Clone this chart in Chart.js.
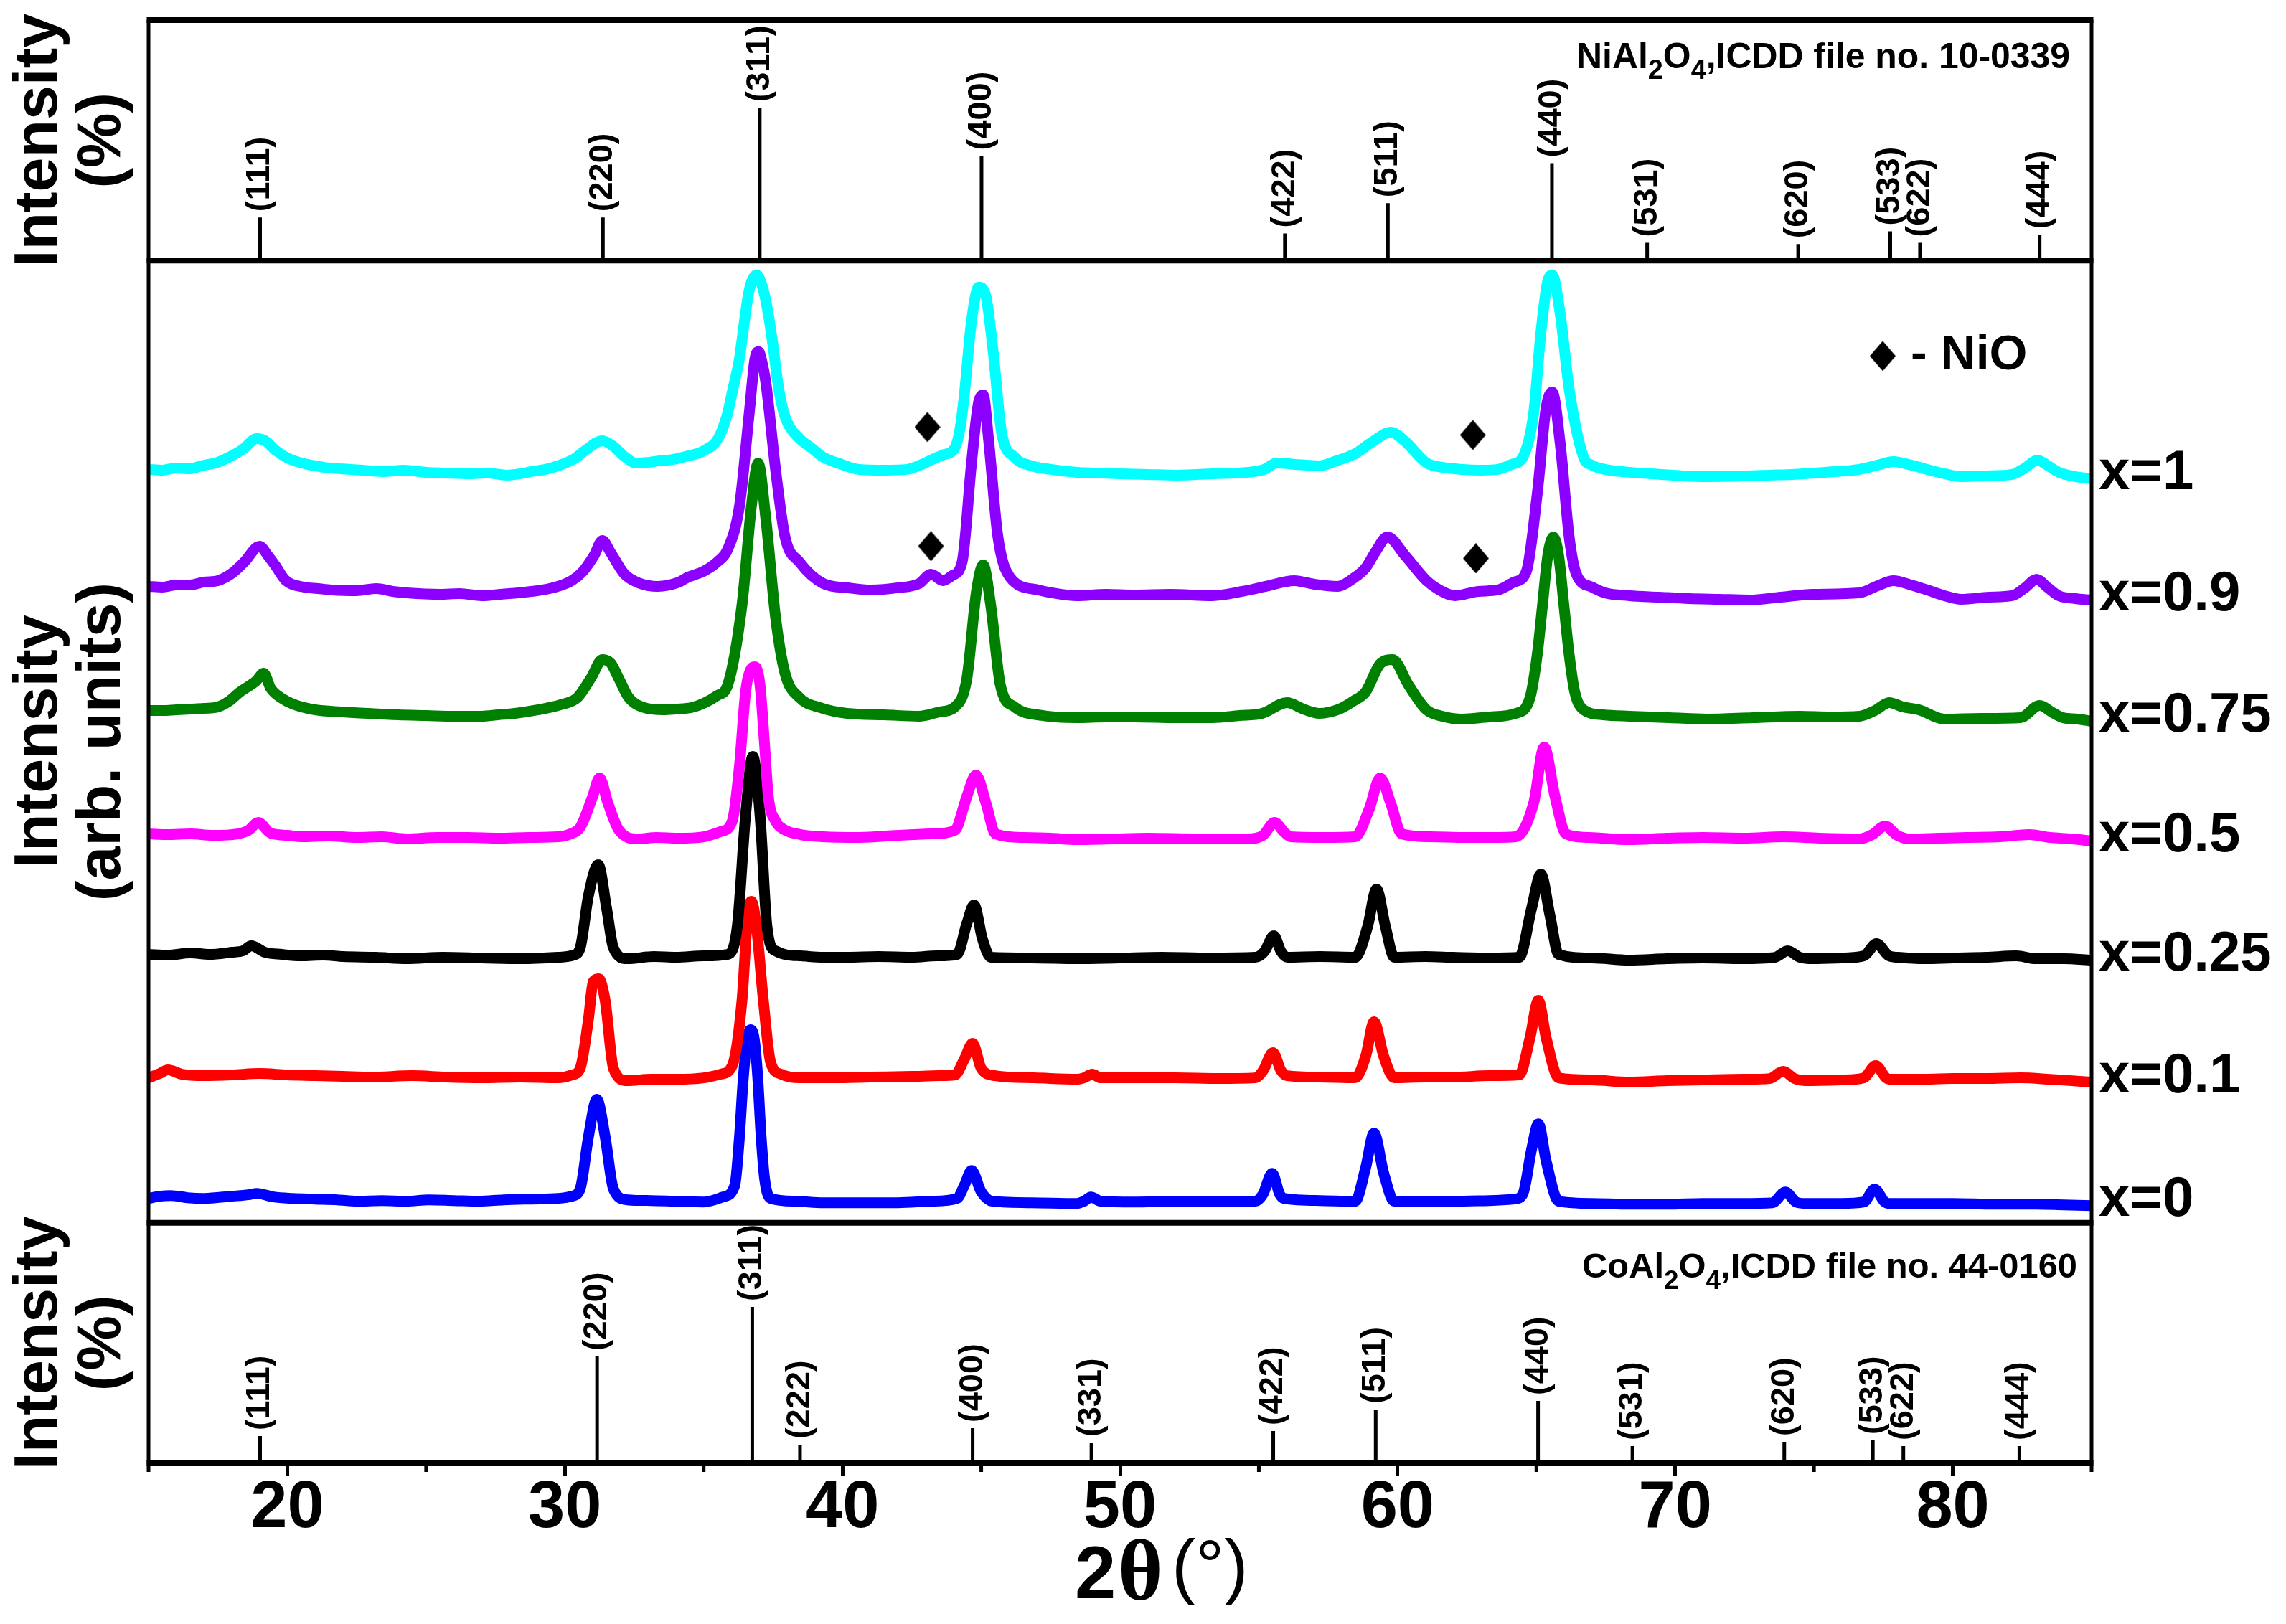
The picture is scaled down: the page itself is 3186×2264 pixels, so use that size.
<!DOCTYPE html>
<html>
<head>
<meta charset="utf-8">
<script src="https://cdn.jsdelivr.net/npm/chart.js@4.4.1/dist/chart.umd.min.js"></script>
<style>
  html, body { margin: 0; padding: 0; background: #ffffff; }
  #c { display: block; }
</style>
</head>
<body>
<canvas id="c" width="3186" height="2264"></canvas>
<script>
// ---------------- DATA ----------------
const seriesNames  = ['x=1', 'x=0.9', 'x=0.75', 'x=0.5', 'x=0.25', 'x=0.1', 'x=0'];
const seriesColors = ['#00FFFF', '#8C00FF', '#008000', '#FF00FF', '#000000', '#FF0000', '#0000FF'];
const xTickLabels  = [20, 30, 40, 50, 60, 70, 80];

// [2theta, stacked intensity (arb. units, offset included)]
const xrd_x1 = [[15.0,1050],[15.5,1049],[16.0,1052],[16.5,1051],[16.9,1055],[17.5,1060],[17.9,1067],[18.4,1078],[18.9,1093],[19.2,1090],[19.6,1076],[20.0,1066],[20.5,1059],[21.0,1055],[21.5,1052],[22.3,1050],[23.0,1048],[23.5,1047],[24.2,1049],[25.0,1046],[25.7,1045],[26.5,1044],[27.2,1045],[27.9,1042],[28.4,1044],[28.8,1047],[29.3,1050],[29.75,1055],[30.35,1065],[30.75,1077],[31.35,1090],[31.75,1082],[32.15,1068],[32.55,1059],[33.05,1060],[33.4,1062],[33.75,1063],[34.35,1068],[35.0,1076],[35.52,1093],[35.86,1128],[36.03,1158],[36.29,1205],[36.47,1257],[36.64,1300],[36.91,1321],[37.15,1300],[37.33,1266],[37.5,1222],[37.67,1171],[37.84,1136],[38.02,1115],[38.45,1093],[38.88,1080],[39.31,1067],[39.9,1058],[40.6,1050],[41.5,1049],[42.33,1050],[42.8,1056],[43.19,1063],[43.6,1070],[44.05,1080],[44.25,1110],[44.39,1154],[44.65,1257],[44.91,1304],[45.17,1291],[45.43,1214],[45.73,1102],[46.2,1067],[46.8,1055],[47.5,1050],[48.44,1046],[49.2,1045],[50.0,1044],[51.0,1043],[52.04,1042],[53.3,1044],[54.61,1046],[55.2,1050],[55.64,1059],[56.3,1057],[57.18,1055],[57.8,1062],[58.47,1072],[59.11,1089],[59.75,1102],[60.27,1089],[61.04,1059],[61.6,1053],[62.33,1050],[63.0,1049],[63.61,1050],[64.1,1057],[64.51,1067],[64.9,1128],[65.16,1240],[65.41,1313],[65.57,1321],[65.86,1266],[66.18,1162],[66.7,1067],[67.0,1056],[67.47,1050],[68.35,1046],[69.5,1043],[70.3,1041],[71.14,1040],[72.6,1041],[73.4,1042],[74.2,1043],[75.4,1046],[76.64,1050],[77.3,1056],[77.86,1061],[78.5,1056],[79.08,1050],[79.7,1044],[80.31,1040],[81.2,1041],[82.14,1043],[82.6,1052],[83.05,1063],[83.4,1056],[83.82,1046],[84.4,1040],[85.0,1037]];

const xrd_x09 = [[15.0,887],[15.5,886],[16.0,889],[16.5,889],[17.0,893],[17.5,895],[18.0,905],[18.45,921],[19.0,943],[19.3,930],[19.55,917],[19.95,895],[20.6,886],[21.1,884],[21.6,882],[22.5,881],[23.2,884],[23.8,880],[24.3,878],[25.5,876],[26.2,877],[27.0,874],[27.7,876],[28.3,878],[29.2,882],[29.75,887],[30.25,895],[30.65,908],[31.05,930],[31.35,951],[31.65,934],[32.15,904],[32.65,892],[33.35,887],[34.05,892],[34.45,900],[35.0,908],[35.52,922],[35.86,938],[36.29,999],[36.64,1128],[36.85,1205],[36.98,1214],[37.1,1200],[37.24,1171],[37.59,1050],[37.93,956],[38.45,921],[39.31,891],[40.2,885],[41.03,882],[42.0,885],[42.76,891],[43.19,904],[43.62,895],[43.95,902],[44.31,921],[44.65,1059],[44.91,1145],[45.07,1154],[45.26,1093],[45.6,956],[46.03,900],[47.06,882],[47.7,877],[48.44,874],[49.5,876],[50.5,875],[51.8,876],[53.32,874],[54.4,880],[55.25,887],[56.28,895],[57.0,890],[57.83,887],[58.4,898],[58.85,913],[59.2,935],[59.63,956],[60.27,930],[61.04,895],[61.5,882],[62.07,874],[62.9,880],[63.61,882],[64.2,893],[64.64,908],[65.03,1016],[65.35,1136],[65.57,1158],[65.86,1085],[66.18,956],[66.44,904],[67.0,886],[67.47,878],[68.35,874],[69.4,872],[70.5,870],[71.6,869],[72.67,868],[73.8,872],[74.96,876],[76.64,878],[77.3,888],[77.86,895],[78.5,889],[79.08,882],[79.7,874],[80.31,869],[81.3,872],[82.14,874],[82.6,885],[83.02,897],[83.4,886],[83.82,874],[84.4,870],[85.0,868]];

const xrd_x075 = [[15.0,714],[15.5,714],[16.0,715],[16.5,716],[17.0,717],[17.5,719],[17.9,727],[18.3,740],[18.87,755],[19.15,766],[19.4,745],[19.8,731],[20.2,723],[21.0,715],[22.0,712],[22.9,710],[24.0,708],[25.0,707],[26.0,706],[27.0,706],[27.6,708],[28.2,710],[29.05,715],[29.85,722],[30.45,732],[30.95,760],[31.35,785],[31.65,780],[31.95,758],[32.3,732],[32.85,718],[33.55,715],[34.0,716],[34.55,718],[35.0,724],[35.5,735],[35.86,749],[36.38,861],[36.72,999],[36.96,1059],[37.24,981],[37.59,844],[37.93,766],[38.45,732],[39.2,718],[40.17,710],[41.5,708],[42.76,706],[43.5,712],[44.05,719],[44.48,758],[44.82,878],[45.07,917],[45.34,861],[45.69,749],[46.2,719],[47.2,707],[48.44,704],[49.5,705],[50.5,705],[52.0,704],[53.32,704],[54.3,707],[55.12,710],[56.02,725],[56.6,716],[57.18,710],[57.9,716],[58.4,727],[58.85,740],[59.37,779],[59.82,785],[60.4,749],[61.04,715],[61.6,706],[62.33,702],[63.3,705],[64.26,710],[64.77,732],[65.03,792],[65.22,861],[65.41,930],[65.61,956],[65.8,930],[65.99,861],[66.18,792],[66.38,740],[66.7,715],[67.4,708],[68.35,706],[69.8,704],[71.14,702],[72.8,704],[74.5,706],[75.6,705],[76.64,706],[77.2,714],[77.71,725],[78.2,719],[78.78,715],[79.7,702],[81.0,703],[82.44,704],[83.13,721],[83.6,711],[83.97,704],[84.5,702],[85.0,699]];

const xrd_x05 = [[15.0,542],[15.7,541],[16.5,542],[17.3,540],[18.2,542],[18.6,547],[18.95,558],[19.4,543],[20.0,540],[20.5,538],[21.5,539],[22.5,537],[23.4,538],[24.3,535],[25.4,537],[26.5,537],[27.6,536],[28.7,537],[29.75,538],[30.2,542],[30.55,551],[31.0,594],[31.25,620],[31.55,585],[31.95,547],[32.65,535],[33.3,537],[34.05,536],[35.0,538],[35.6,545],[36.03,560],[36.29,637],[36.51,740],[36.68,770],[36.85,775],[37.03,749],[37.2,663],[37.33,594],[37.59,560],[37.9,548],[38.5,541],[39.31,538],[40.6,537],[42.0,540],[43.2,542],[44.05,547],[44.48,594],[44.81,624],[45.17,585],[45.51,542],[46.5,537],[47.5,536],[48.44,534],[49.7,535],[51.0,536],[52.8,535],[54.61,535],[55.15,540],[55.57,558],[55.9,545],[56.15,538],[57.3,537],[58.47,538],[58.98,577],[59.37,620],[59.75,585],[60.14,542],[61.2,538],[62.5,537],[63.4,537],[64.26,538],[64.9,585],[65.28,663],[65.67,594],[66.06,542],[66.9,537],[68.35,534],[69.7,536],[71.0,537],[72.5,536],[73.89,538],[75.2,536],[76.64,535],[77.1,541],[77.56,553],[78.0,540],[78.47,535],[79.5,536],[80.5,537],[81.7,538],[82.75,541],[83.5,537],[84.3,535],[85.0,532]];

const xrd_x025 = [[15.0,374],[15.7,373],[16.5,376],[17.2,374],[18.0,377],[18.4,379],[18.7,386],[19.2,377],[19.8,374],[20.5,372],[21.3,373],[22.0,371],[23.2,370],[24.3,368],[25.6,370],[27.0,369],[28.4,368],[29.75,370],[30.3,373],[30.55,383],[30.85,456],[31.2,499],[31.5,439],[31.75,383],[32.25,368],[33.2,371],[34.0,370],[35.0,372],[35.86,374],[36.21,413],[36.51,568],[36.77,650],[37.03,568],[37.28,413],[37.59,379],[38.5,372],[39.3,370],[40.17,370],[41.3,371],[42.5,370],[43.4,372],[44.13,374],[44.48,417],[44.74,443],[45.04,396],[45.34,370],[46.8,369],[48.44,368],[50.0,369],[51.5,370],[53.2,369],[54.87,370],[55.2,378],[55.54,400],[55.8,378],[56.02,370],[57.2,371],[58.47,370],[58.92,413],[59.24,465],[59.56,413],[59.88,370],[61.0,371],[62.0,370],[63.3,369],[64.38,370],[64.83,439],[65.16,486],[65.48,430],[65.8,374],[67.0,369],[68.35,366],[69.7,368],[71.0,369],[72.4,368],[73.6,370],[74.05,379],[74.5,370],[74.96,368],[76.0,369],[76.8,372],[77.25,389],[77.7,372],[78.02,370],[79.0,368],[80.0,369],[81.2,370],[82.29,372],[83.0,368],[84.0,368],[85.0,366]];

const xrd_x01 = [[15.0,202],[15.4,208],[15.7,213],[16.2,207],[17.0,205],[18.0,206],[19.0,208],[20.0,206],[21.0,205],[22.0,204],[23.0,203],[24.5,205],[25.7,203],[27.0,202],[28.4,203],[29.75,202],[30.25,206],[30.55,215],[30.85,284],[31.02,336],[31.22,340],[31.45,310],[31.75,215],[32.25,198],[33.1,200],[34.0,200],[35.0,202],[35.6,207],[36.03,219],[36.38,310],[36.59,430],[36.72,448],[36.9,413],[37.15,310],[37.41,224],[37.8,207],[38.45,202],[39.7,202],[41.0,203],[42.5,204],[43.5,205],[44.05,206],[44.39,228],[44.69,250],[45.0,215],[45.5,205],[46.9,202],[48.44,200],[48.7,202],[49.0,207],[49.3,202],[50.5,202],[52.0,202],[53.5,201],[54.87,202],[55.15,212],[55.51,237],[55.8,212],[56.02,205],[57.2,203],[58.47,202],[58.85,232],[59.15,280],[59.5,232],[59.88,202],[61.0,203],[62.0,203],[63.3,205],[64.38,206],[64.77,258],[65.07,310],[65.35,258],[65.8,202],[67.0,199],[68.35,196],[69.7,198],[71.0,199],[72.5,200],[73.4,201],[73.89,211],[74.3,201],[74.66,198],[76.0,199],[76.8,202],[77.22,219],[77.6,202],[77.71,200],[79.0,200],[80.0,201],[81.2,201],[82.44,202],[83.5,200],[84.3,198],[85.0,196]];

const xrd_x0 = [[15.0,34],[15.4,37],[15.8,38],[16.4,35],[17.0,34],[18.0,37],[18.6,39],[18.9,41],[19.5,36],[20.2,34],[21.0,33],[21.8,32],[22.5,30],[23.4,31],[24.3,30],[25.1,32],[26.0,31],[26.9,30],[27.8,32],[28.8,33],[29.75,34],[30.25,37],[30.55,47],[30.85,120],[31.15,172],[31.45,120],[31.75,47],[32.25,32],[33.1,31],[34.0,30],[35.0,29],[35.7,36],[36.12,52],[36.29,120],[36.42,198],[36.55,250],[36.68,269],[36.81,259],[36.94,207],[37.07,120],[37.2,60],[37.41,34],[38.3,30],[39.31,28],[40.6,28],[42.0,28],[43.2,30],[44.13,34],[44.39,52],[44.65,73],[45.0,43],[45.4,30],[46.8,28],[48.44,27],[48.7,30],[48.95,36],[49.3,30],[50.5,29],[52.0,30],[53.5,30],[54.87,30],[55.15,40],[55.48,69],[55.75,40],[55.9,34],[57.2,31],[58.47,30],[58.85,77],[59.15,125],[59.5,69],[59.88,30],[61.0,30],[62.0,30],[63.3,31],[64.2,33],[64.51,40],[64.83,103],[65.07,138],[65.35,86],[65.8,30],[67.0,27],[68.35,26],[69.7,26],[71.0,27],[72.4,27],[73.5,28],[73.97,43],[74.35,29],[74.66,27],[76.0,27],[76.8,29],[77.18,47],[77.55,29],[77.71,27],[79.0,27],[80.0,27],[81.5,26],[83.0,26],[84.0,25],[85.0,24]];

const spectra = [xrd_x1, xrd_x09, xrd_x075, xrd_x05, xrd_x025, xrd_x01, xrd_x0];

// NiO reflections marked with diamonds [2theta, level]
const nioTheta = [43.06, 43.19, 62.71, 62.82];
const nioLevel = [1109, 943, 1098, 926];

// NiAl2O4, ICDD 10-0339 (relative intensity, %)
const niTheta     = [19.02, 31.37, 37.02, 45.01, 55.94, 59.65, 65.56, 68.99, 74.43, 77.75, 78.82, 83.13];
const niIntensity = [28.2, 28.2, 100, 68.5, 17.8, 37.6, 63.8, 11.7, 10.8, 19.2, 11.7, 16.9];
const niHkl       = ['(111)','(220)','(311)','(400)','(422)','(511)','(440)','(531)','(620)','(533)','(622)','(444)'];

// CoAl2O4, ICDD 44-0160 (relative intensity, %)
const coTheta     = [19.02, 31.16, 36.75, 38.47, 44.69, 48.97, 55.52, 59.21, 65.06, 68.46, 73.93, 77.12, 78.22, 82.4];
const coIntensity = [17.4, 68.3, 100, 11.9, 22.5, 13.3, 20.6, 34.4, 39.9, 11.0, 13.8, 14.7, 11.0, 11.0];
const coHkl       = ['(111)','(220)','(311)','(222)','(400)','(331)','(422)','(511)','(440)','(531)','(620)','(533)','(622)','(444)'];

// ---------------- CHART ----------------
const SANS = "'Liberation Sans', Arial, Helvetica, sans-serif";
const SERIF = "'Liberation Serif', 'Times New Roman', serif";

const diamond = document.createElement('canvas');
diamond.width = 36; diamond.height = 42;
(function () {
  const d = diamond.getContext('2d');
  d.fillStyle = '#000';
  d.beginPath(); d.moveTo(18, 0); d.lineTo(36, 21); d.lineTo(18, 42); d.lineTo(0, 21); d.closePath(); d.fill();
})();

function stickData(theta, inten) {
  const out = [];
  theta.forEach((t, i) => { out.push({x: t, y: 0}, {x: t, y: inten[i]}, {x: t, y: null}); });
  return out;
}

const datasets = [];
spectra.forEach((s, i) => {
  datasets.push({
    type: 'line', label: seriesNames[i], yAxisID: 'yMain',
    data: s.map(p => ({x: p[0], y: p[1]})),
    borderColor: seriesColors[i], borderWidth: 15, pointRadius: 0,
    cubicInterpolationMode: 'monotone', borderJoinStyle: 'round', borderCapStyle: 'round',
    fill: false, clip: 0
  });
});
datasets.push({
  type: 'line', label: 'NiO', yAxisID: 'yMain',
  data: nioTheta.map((t, i) => ({x: t, y: nioLevel[i]})),
  showLine: false, pointStyle: diamond, pointRadius: 20
});
datasets.push({
  type: 'line', label: 'NiAl2O4', yAxisID: 'yTop', data: stickData(niTheta, niIntensity),
  borderColor: '#000', borderWidth: 5, pointRadius: 0, spanGaps: false, tension: 0, borderCapStyle: 'butt'
});
datasets.push({
  type: 'line', label: 'CoAl2O4', yAxisID: 'yBot', data: stickData(coTheta, coIntensity),
  borderColor: '#000', borderWidth: 5, pointRadius: 0, spanGaps: false, tension: 0, borderCapStyle: 'butt'
});

function yAxis(min, max, weight, titleLines) {
  return {
    type: 'linear', position: 'left', stack: 'panels', stackWeight: weight,
    min: min, max: max,
    ticks: {display: false}, grid: {display: false}, border: {display: false},
    title: {display: true, text: titleLines, color: '#000',
            font: {family: SANS, size: 86, weight: 'bold', lineHeight: 88 / 86},
            padding: {top: 11, bottom: 0}},
    afterFit: (s) => { s.width = 207; }
  };
}

function drawCaption(ctx, segs, rightX, baseY, targetW, size, subDrop) {
  ctx.save();
  const big = 'bold ' + size + 'px ' + SANS;
  const small = 'bold ' + Math.round(size * 0.76) + 'px ' + SANS;
  let total = 0;
  const widths = segs.map(s => { ctx.font = s[1] ? small : big; const w = ctx.measureText(s[0]).width; total += w; return w; });
  const sx = targetW / total;
  ctx.translate(rightX - targetW, baseY);
  ctx.scale(sx, 1);
  ctx.textAlign = 'left'; ctx.textBaseline = 'alphabetic';
  let x = 0;
  segs.forEach((s, i) => { ctx.font = s[1] ? small : big; ctx.fillText(s[0], x, s[1] ? subDrop : 0); x += widths[i]; });
  ctx.restore();
}

const decor = {
  id: 'decor',
  afterDatasetsDraw(chart) {
    const {ctx, chartArea: ca, scales} = chart;
    const xs = scales.x, yT = scales.yTop, yM = scales.yMain, yB = scales.yBot;
    ctx.save();
    ctx.strokeStyle = '#000'; ctx.fillStyle = '#000';

    // minor ticks (every 10 starting at 15)
    ctx.lineWidth = 5;
    ctx.beginPath();
    for (let v = 15; v <= 85; v += 10) {
      const px = xs.getPixelForValue(v);
      ctx.moveTo(px, yB.bottom); ctx.lineTo(px, yB.bottom + 12);
    }
    ctx.stroke();

    // panel frames
    ctx.lineWidth = 5;
    ctx.beginPath();
    ctx.moveTo(ca.left, ca.top); ctx.lineTo(ca.left, ca.bottom);
    ctx.moveTo(ca.right, ca.top); ctx.lineTo(ca.right, ca.bottom);
    ctx.stroke();
    ctx.lineWidth = 8;
    ctx.beginPath();
    [yT.top, yT.bottom, yM.bottom, yB.bottom].forEach(y => { ctx.moveTo(ca.left - 2.5, y); ctx.lineTo(ca.right + 2.5, y); });
    ctx.stroke();

    // hkl labels above sticks
    ctx.font = 'bold 47px ' + SANS;
    ctx.textAlign = 'left'; ctx.textBaseline = 'middle';
    const hkl = (theta, inten, labels, ys) => {
      theta.forEach((t, i) => {
        const px = xs.getPixelForValue(t), py = ys.getPixelForValue(inten[i]) - 8;
        ctx.save(); ctx.translate(px, py); ctx.rotate(-Math.PI / 2); ctx.fillText(labels[i], 0, 0); ctx.restore();
      });
    };
    hkl(niTheta, niIntensity, niHkl, yT);
    hkl(coTheta, coIntensity, coHkl, yB);

    // reference captions
    drawCaption(ctx, [['NiAl', 0], ['2', 1], ['O', 0], ['4', 1], [',ICDD file no. 10-0339', 0]],
                ca.right - 30, yT.top + 67, 688, 50, 15);
    drawCaption(ctx, [['CoAl', 0], ['2', 1], ['O', 0], ['4', 1], [',ICDD file no. 44-0160', 0]],
                ca.right - 20, yB.top + 76, 690, 49, 16);

    // series labels at right
    ctx.font = 'bold 78px ' + SANS;
    ctx.textAlign = 'left'; ctx.textBaseline = 'middle';
    spectra.forEach((s, i) => {
      ctx.fillText(seriesNames[i], ca.right + 10, yM.getPixelForValue(s[s.length - 1][1]) - 7);
    });

    // NiO legend
    const lx = ca.right - 291, ly = yM.top + 133;
    ctx.drawImage(diamond, lx - 18, ly - 21);
    ctx.font = 'bold 68px ' + SANS;
    ctx.textBaseline = 'alphabetic';
    ctx.fillText('- NiO', lx + 39, ly + 19);

    // x-axis title  2θ (°)
    const x50 = xs.getPixelForValue(50);
    const baseY = yB.bottom + 188;
    ctx.font = 'bold 103px ' + SANS;
    ctx.fillText('2', x50 - 63, baseY);
    ctx.font = 'bold 120px ' + SERIF;
    ctx.fillText('\u03B8', x50 - 3, baseY + 2);
    ctx.font = '100px ' + SANS;
    ctx.fillText('(\u00B0)', x50 + 72, baseY - 11);

    ctx.restore();
  }
};

new Chart(document.getElementById('c'), {
  data: {datasets: datasets},
  options: {
    responsive: false, animation: false, devicePixelRatio: 1, events: [],
    layout: {padding: {left: 0, right: 271, top: 28, bottom: 0}, autoPadding: false},
    plugins: {legend: {display: false}, tooltip: {enabled: false}, title: {display: false}},
    scales: {
      x: {
        type: 'linear', position: 'bottom', min: 15, max: 85,
        ticks: {
          stepSize: 5, autoSkip: false, maxRotation: 0, minRotation: 0, color: '#000', padding: 0,
          font: {family: SANS, size: 92, weight: 'bold', lineHeight: 1},
          callback: (v) => xTickLabels.includes(v) ? String(v) : ''
        },
        grid: {
          display: true, drawOnChartArea: false, drawTicks: true, tickLength: 18, tickWidth: 5,
          tickColor: (c) => (c.tick && xTickLabels.includes(c.tick.value)) ? '#000' : 'rgba(0,0,0,0)'
        },
        border: {display: false},
        afterFit: (s) => { s.height = 224; }
      },
      yBot:  yAxis(0, 153.8, 1, ['Intensity', '(%)']),
      yMain: yAxis(0, 1341, 4, ['Intensity', '(arb. units)']),
      yTop:  yAxis(0, 157.4, 1, ['Intensity', '(%)'])
    }
  },
  plugins: [decor]
});
</script>
</body>
</html>
